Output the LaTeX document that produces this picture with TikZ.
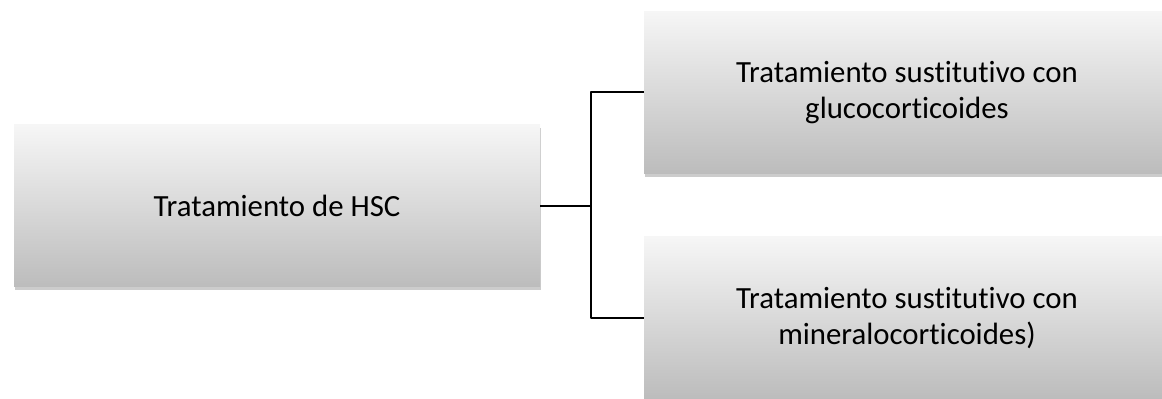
\documentclass[tikz,border=0pt]{standalone}
\usepackage{fontspec}
\setmainfont{Carlito}[Ligatures=NoCommon]
\usetikzlibrary{positioning,shadows}
\definecolor{boxtop}{HTML}{F6F6F6}
\definecolor{boxbot}{HTML}{BCBCBC}
\begin{document}
\begin{tikzpicture}[x=.5pt,y=-.5pt,line join=round,
  font=\fontsize{15.4}{18}\selectfont,
  box/.style={minimum width=263pt,minimum height=81pt,inner sep=0pt,
    align=center,top color=boxtop,bottom color=boxbot,
    drop shadow={shadow xshift=.4pt,shadow yshift=-1.6pt,opacity=.2,fill=black}},
  link/.style={line width=1pt}]
\clip (0,0) rectangle (1162,399);
\useasboundingbox (0,0) rectangle (1162,399);
	\node[box] (hsc) at (277,206) {Tratamiento de HSC};
	\node[box] (gluco) at (907,92.5) {Tratamiento sustitutivo con\\glucocorticoides};
	\node[box] (mineral) at (907,318) {Tratamiento sustitutivo con\\mineralocorticoides)};
	\coordinate (split) at (591,206);
	\draw[link] (hsc.east)--(split);
	\draw[link] (gluco.west)-|(split)|-(mineral.west);
\end{tikzpicture}
\end{document}
